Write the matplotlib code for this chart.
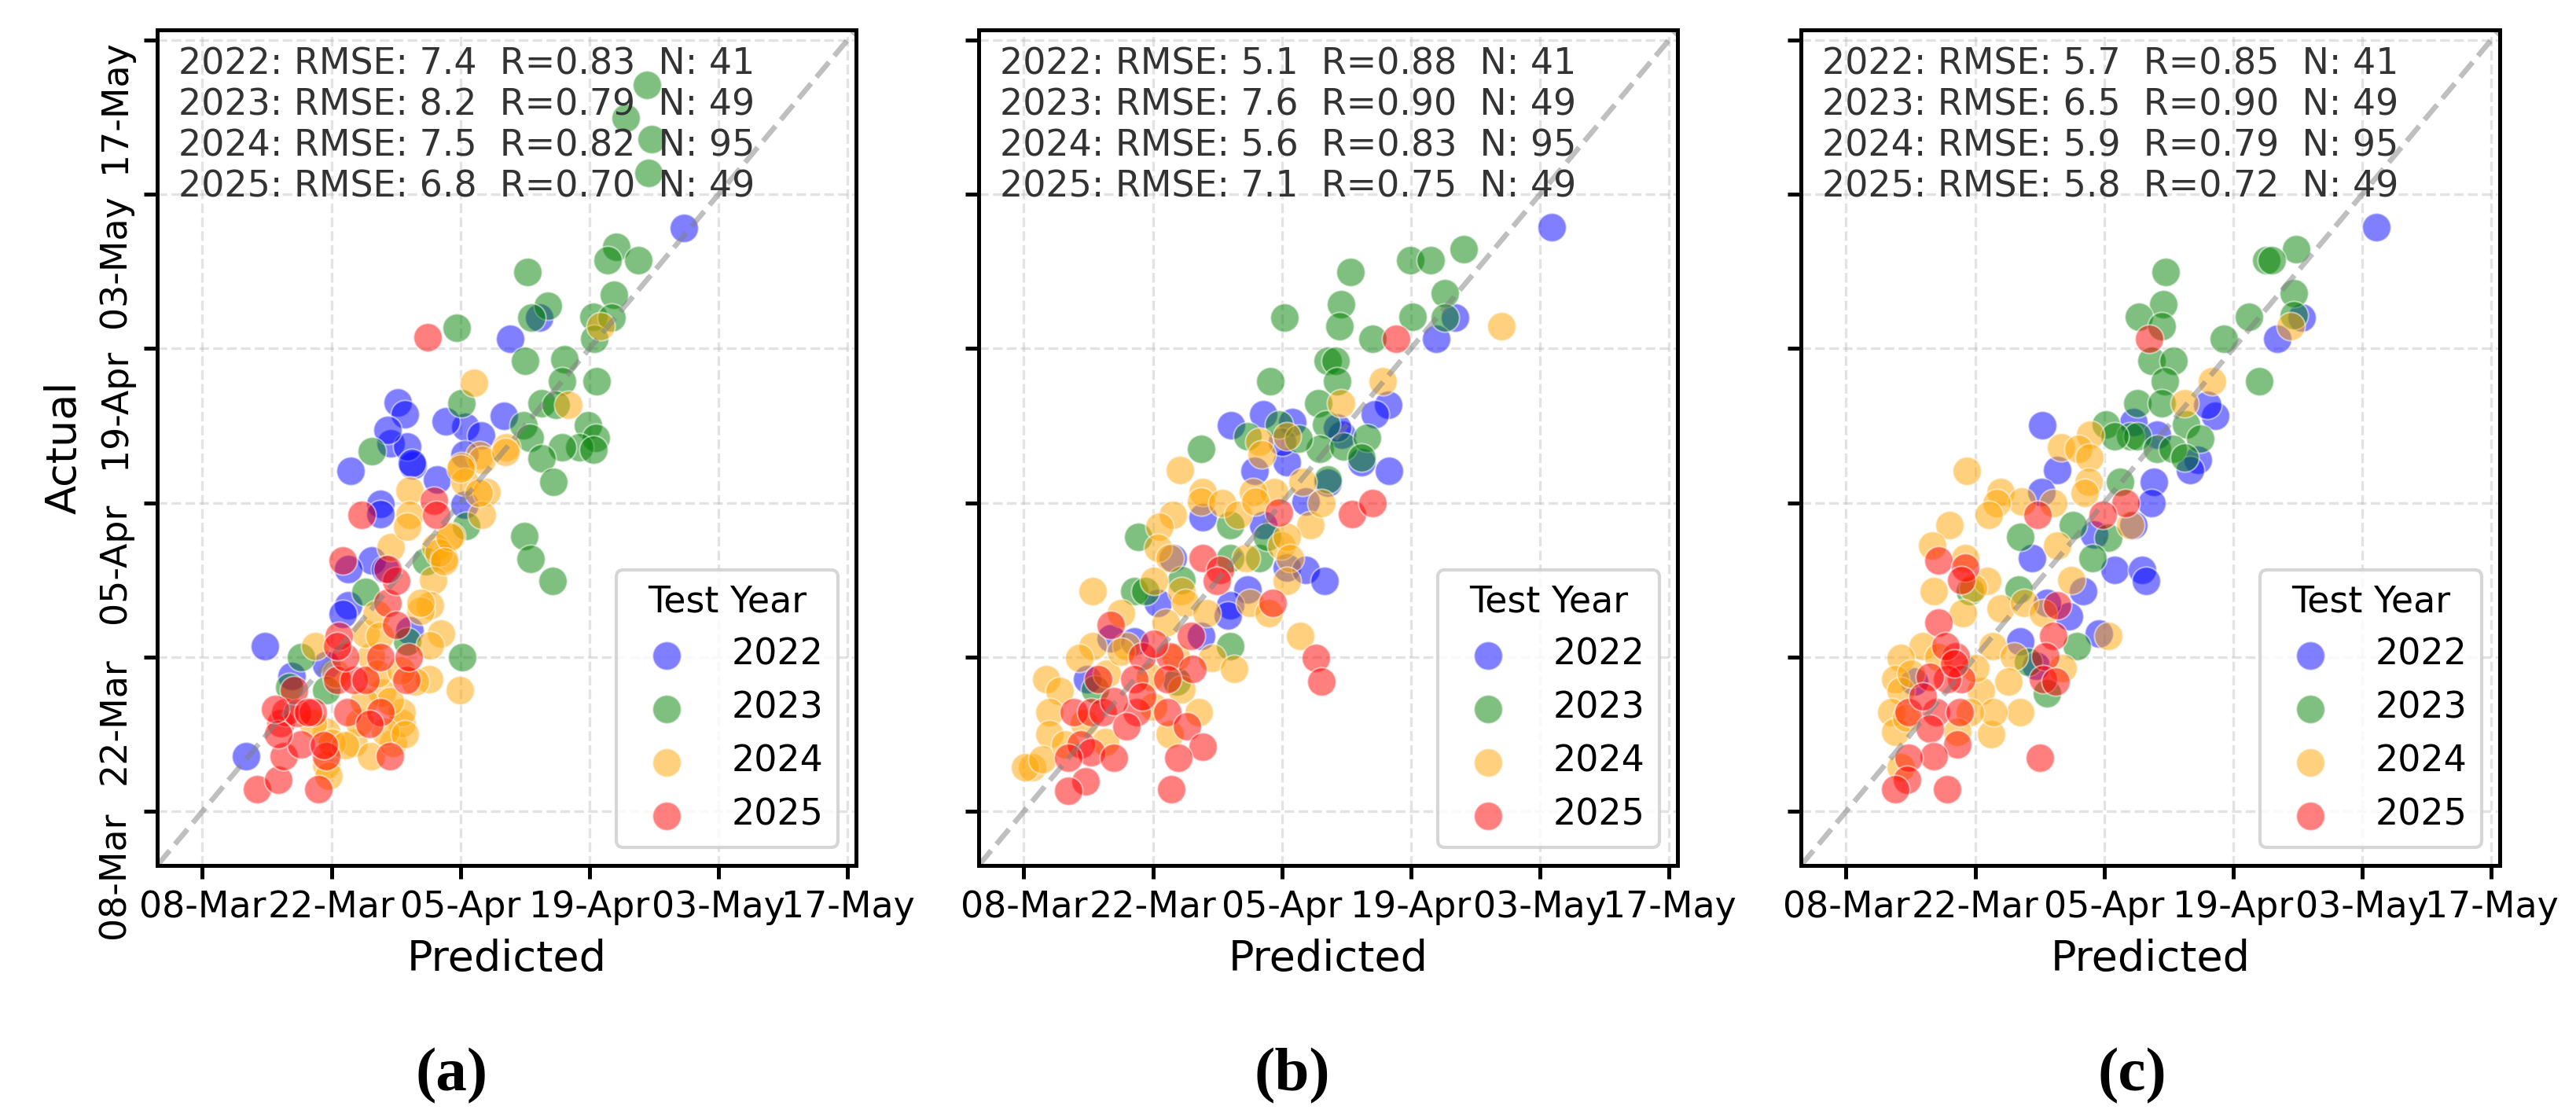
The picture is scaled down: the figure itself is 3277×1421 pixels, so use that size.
import numpy as np
import pandas as pd
import matplotlib
matplotlib.use("Agg")
import matplotlib.pyplot as plt
import matplotlib.dates as mdates

# all values are days after 08-Mar, pairs are (predicted, actual)
base_date = pd.Timestamp("2023-03-08")
years = ["2022", "2023", "2024", "2025"]
year_colors = ["blue", "green", "orange", "red"]
tick_days = [0, 14, 28, 42, 56, 70]

# ---- panel (a) ----
a_2022 = [(52.2, 52.9), (33.4, 42.9), (36.5, 44.8), (32.7, 35.9), (28.5, 34.9), (30.2, 34.1),
          (26.4, 35.4), (28.4, 32.4), (25.5, 30.1), (28.4, 27.8), (6.8, 15.0), (4.7, 5.0),
          (16.1, 30.9), (19.3, 27.9), (19.3, 27.0), (18.4, 22.8), (15.8, 22.0), (15.8, 18.7),
          (15.2, 17.9), (22.8, 31.4), (9.7, 12.3), (13.4, 13.3), (22.5, 16.4), (19.8, 22.0),
          (20.4, 33.4), (22.2, 33.1), (21.2, 37.1), (22.0, 36.0), (20.1, 34.6), (22.7, 31.6)]
a_2023 = [(48.2, 65.9), (45.9, 62.9), (48.7, 61.0), (48.4, 57.9), (44.9, 51.2), (44.0, 50.0),
          (47.3, 50.0), (35.3, 48.9), (44.6, 46.9), (37.5, 45.9), (35.7, 44.8), (42.4, 44.9),
          (44.4, 44.8), (42.5, 42.9), (27.6, 43.9), (35.0, 40.9), (39.3, 41.0), (39.0, 39.0),
          (42.8, 39.0), (28.1, 37.0), (36.8, 37.0), (38.3, 36.9), (34.8, 35.0), (35.5, 33.9),
          (41.8, 35.0), (42.7, 33.9), (40.9, 33.0), (39.0, 33.0), (42.4, 32.8), (36.8, 32.0),
          (38.1, 29.9), (34.9, 25.0), (35.6, 22.9), (38.0, 20.9), (28.2, 14.0), (28.6, 25.9),
          (18.4, 32.7), (10.7, 14.0), (9.4, 11.3), (13.4, 11.0), (17.7, 19.9), (22.2, 15.4),
          (24.3, 22.7)]
a_2024 = [(43.2, 44.0), (29.5, 38.9), (39.7, 36.9), (33.0, 33.0), (30.1, 32.3), (30.3, 31.9),
          (28.1, 31.3), (28.4, 29.9), (30.8, 29.0), (30.3, 26.9), (27.0, 25.0), (25.3, 24.0),
          (26.2, 23.0), (25.0, 21.0), (24.7, 18.7), (25.9, 16.1), (24.7, 15.1), (24.6, 12.0),
          (27.9, 11.0), (23.7, 18.2), (12.2, 15.0), (13.4, 4.2), (13.7, 3.2), (16.4, 6.2),
          (18.3, 5.0), (20.7, 6.2), (21.6, 8.0), (21.6, 9.0), (19.8, 7.2), (19.5, 10.8),
          (17.0, 8.1), (13.4, 7.2), (14.0, 6.2), (23.1, 11.8), (23.7, 18.9), (20.4, 24.0),
          (22.5, 29.1), (22.5, 26.9), (22.2, 25.8), (25.6, 23.5), (26.8, 24.9), (26.2, 22.7),
          (30.0, 28.9), (28.0, 31.1), (32.9, 32.6), (18.3, 14.1), (17.7, 16.1), (18.9, 17.9),
          (19.2, 15.9), (20.3, 10.0), (19.0, 12.5), (21.5, 12.8), (17.5, 10.0), (15.5, 6.0),
          (22.0, 7.0), (14.5, 12.5), (12.0, 8.0)]
a_2025 = [(5.9, 2.0), (8.2, 2.9), (12.6, 2.0), (8.8, 5.0), (10.7, 6.1), (13.4, 5.0),
          (13.2, 6.0), (20.3, 5.0), (8.5, 8.0), (9.0, 9.0), (10.3, 8.9), (12.0, 9.0),
          (15.7, 9.0), (19.3, 9.0), (18.1, 7.9), (14.6, 11.9), (16.4, 11.9), (17.7, 11.9),
          (22.1, 11.9), (15.5, 14.0), (19.3, 14.0), (22.4, 14.0), (14.8, 15.9), (20.1, 18.9),
          (21.0, 16.9), (21.0, 20.9), (20.1, 22.0), (15.2, 22.8), (17.3, 26.9), (25.1, 28.2),
          (25.4, 26.9), (8.2, 7.0), (14.6, 15.0), (24.4, 43.0), (9.9, 11.0), (11.5, 9.0),
          (7.9, 9.3)]
a_stats = ["2022: RMSE: 7.4  R=0.83  N: 41", "2023: RMSE: 8.2  R=0.79  N: 49",
           "2024: RMSE: 7.5  R=0.82  N: 95", "2025: RMSE: 6.8  R=0.70  N: 49"]

# ---- panel (b) ----
b_2022 = [(57.3, 53.0), (46.8, 44.8), (44.7, 42.9), (39.5, 36.9), (38.1, 36.0), (39.6, 30.9),
          (22.5, 35.0), (26.0, 36.0), (29.1, 35.3), (34.5, 34.2), (33.0, 29.8), (25.0, 30.9),
          (28.5, 31.7), (36.6, 31.7), (30.6, 28.1), (19.4, 26.7), (26.0, 26.0), (16.2, 23.0),
          (28.5, 22.1), (30.6, 21.9), (32.6, 20.9), (24.3, 20.1), (22.4, 18.7), (22.1, 17.8),
          (14.5, 18.9), (19.2, 15.9), (6.9, 12.0), (9.4, 15.7), (12.0, 15.4), (34.0, 34.8),
          (28.0, 33.5)]
b_2023 = [(47.7, 51.0), (41.9, 50.0), (44.1, 50.0), (35.4, 48.9), (28.3, 44.8), (45.7, 47.0),
          (45.7, 44.8), (42.2, 44.9), (34.4, 46.0), (34.2, 44.0), (37.8, 42.9), (33.0, 40.9),
          (33.8, 40.9), (34.0, 39.0), (26.7, 39.0), (31.9, 37.0), (32.8, 35.1), (32.1, 32.9),
          (34.7, 33.1), (37.2, 33.9), (36.6, 32.1), (27.7, 35.1), (24.3, 34.0), (29.8, 33.8),
          (33.0, 30.1), (19.2, 32.9), (12.4, 24.9), (22.4, 26.0), (22.4, 23.0), (25.5, 23.0),
          (26.4, 24.9), (12.0, 20.0), (13.2, 20.0), (17.1, 21.0), (22.4, 15.0), (16.6, 11.8),
          (7.7, 11.1)]
b_2024 = [(51.8, 44.0), (38.9, 39.0), (34.4, 37.0), (25.5, 33.5), (28.5, 34.0), (25.8, 32.4),
          (16.9, 31.0), (30.2, 29.9), (27.2, 29.0), (24.9, 29.0), (19.4, 29.0), (19.2, 28.1),
          (21.5, 28.0), (23.2, 26.9), (25.1, 28.1), (31.1, 26.0), (32.3, 28.0), (16.2, 26.9),
          (14.7, 25.8), (14.5, 23.9), (15.8, 23.0), (27.9, 24.1), (28.5, 24.9), (24.1, 23.0),
          (28.9, 23.0), (28.5, 20.9), (7.5, 20.0), (14.1, 20.9), (17.1, 20.0), (17.5, 18.9),
          (19.8, 18.0), (15.4, 17.1), (24.5, 18.9), (26.6, 18.0), (30.0, 15.9), (10.5, 18.0),
          (7.5, 15.0), (6.0, 13.9), (11.1, 15.0), (20.4, 13.9), (22.8, 12.9), (2.4, 12.0),
          (3.9, 10.9), (2.8, 9.0), (2.8, 7.0), (0.9, 4.0), (0.1, 4.0), (2.0, 4.7), (4.5, 6.1),
          (19.0, 9.0), (15.8, 7.0), (8.8, 6.3), (13.7, 12.2), (17.1, 11.1), (9.0, 12.5),
          (10.5, 14.5), (6.5, 8.0), (14.0, 9.5), (16.5, 14.0)]
b_2025 = [(40.4, 42.9), (35.6, 27.0), (37.8, 28.0), (27.7, 27.1), (19.4, 23.0), (21.3, 21.9),
          (20.9, 20.9), (27.0, 18.9), (9.4, 16.9), (18.1, 15.9), (12.8, 14.1), (15.8, 14.1),
          (14.1, 15.2), (18.3, 12.9), (8.1, 12.0), (12.0, 12.0), (15.6, 12.0), (5.4, 9.0),
          (7.3, 9.0), (8.6, 9.0), (12.2, 9.0), (15.6, 9.0), (12.8, 10.4), (9.8, 10.0),
          (17.7, 7.7), (11.1, 7.7), (6.2, 6.1), (7.3, 5.4), (9.8, 4.9), (4.8, 4.9),
          (19.4, 5.9), (16.8, 4.9), (6.7, 2.7), (4.8, 1.9), (16.0, 2.0), (31.7, 13.9),
          (32.3, 11.8)]
b_stats = ["2022: RMSE: 5.1  R=0.88  N: 41", "2023: RMSE: 7.6  R=0.90  N: 49",
           "2024: RMSE: 5.6  R=0.83  N: 95", "2025: RMSE: 7.1  R=0.75  N: 49"]

# ---- panel (c) ----
c_2022 = [(57.5, 53.0), (49.4, 44.8), (46.8, 42.9), (40.0, 35.9), (39.2, 36.9), (38.2, 31.9),
          (37.3, 31.0), (33.4, 29.9), (33.1, 28.0), (31.2, 26.0), (21.3, 35.0), (31.2, 35.3),
          (33.7, 34.2), (22.9, 31.0), (21.2, 29.0), (26.9, 25.1), (20.2, 23.0), (29.1, 21.9),
          (32.1, 21.9), (32.5, 20.9), (25.7, 20.0), (24.2, 17.7), (21.8, 18.9), (27.4, 16.1),
          (18.9, 15.4), (20.6, 13.2), (7.4, 11.8)]
c_2023 = [(34.7, 48.9), (48.8, 51.0), (45.6, 50.0), (46.2, 50.0), (34.4, 46.0), (31.8, 44.9),
          (34.2, 44.0), (48.6, 47.0), (48.6, 45.0), (43.7, 44.9), (41.0, 42.9), (33.1, 40.9),
          (35.5, 40.9), (34.6, 39.0), (44.8, 39.0), (31.6, 37.0), (34.2, 37.0), (36.9, 35.1),
          (38.4, 33.8), (28.2, 35.1), (30.8, 34.0), (31.6, 34.0), (29.1, 34.0), (33.7, 32.9),
          (35.4, 32.9), (36.7, 32.1), (29.7, 29.9), (24.6, 26.0), (18.9, 24.9), (28.4, 24.8),
          (26.7, 23.0), (18.7, 20.1), (25.0, 15.0), (21.8, 10.7), (19.7, 13.6), (13.4, 20.0)]
c_2024 = [(39.7, 39.0), (36.7, 37.0), (48.2, 44.0), (26.5, 34.2), (23.3, 33.0), (25.2, 32.9),
          (26.4, 32.1), (26.3, 29.9), (25.9, 28.9), (13.1, 30.9), (16.8, 29.0), (19.1, 28.1),
          (16.3, 28.0), (15.5, 26.9), (22.5, 28.0), (11.2, 26.0), (9.3, 24.1), (12.9, 23.0),
          (15.3, 20.9), (9.5, 20.0), (22.9, 24.1), (24.4, 21.0), (30.8, 26.0), (28.4, 15.9),
          (13.8, 20.3), (16.8, 18.4), (19.3, 18.9), (21.4, 18.0), (12.7, 18.0), (15.9, 15.0),
          (18.2, 14.1), (8.3, 15.0), (5.9, 13.9), (5.3, 12.0), (5.9, 10.9), (14.6, 10.9),
          (17.6, 11.8), (23.5, 13.0), (4.9, 9.0), (5.3, 7.2), (15.7, 7.0), (18.9, 9.0),
          (16.0, 9.0), (13.4, 9.0), (5.9, 4.0), (12.1, 7.2), (7.0, 12.5), (10.0, 14.0),
          (6.5, 8.5), (14.0, 13.0)]
c_2025 = [(32.9, 42.9), (30.3, 28.0), (27.8, 26.9), (20.8, 26.9), (22.9, 18.7), (22.5, 15.9),
          (21.6, 14.1), (21.4, 12.0), (22.7, 11.8), (10.0, 22.8), (12.9, 22.1), (12.5, 21.0),
          (10.0, 17.1), (11.9, 14.1), (12.5, 12.0), (11.0, 12.0), (9.1, 12.2), (6.8, 9.0),
          (9.8, 9.0), (12.3, 9.0), (8.3, 10.4), (9.1, 7.5), (12.1, 6.1), (9.5, 5.0),
          (6.8, 4.9), (6.6, 2.9), (5.3, 2.0), (11.0, 2.0), (21.0, 4.9), (10.8, 15.0),
          (11.7, 13.4)]
c_stats = ["2022: RMSE: 5.7  R=0.85  N: 41", "2023: RMSE: 6.5  R=0.90  N: 49",
           "2024: RMSE: 5.9  R=0.79  N: 95", "2025: RMSE: 5.8  R=0.72  N: 49"]

panel_data = [[a_2022, a_2023, a_2024, a_2025],
              [b_2022, b_2023, b_2024, b_2025],
              [c_2022, c_2023, c_2024, c_2025]]
panel_stats = [a_stats, b_stats, c_stats]
captions = ["(a)", "(b)", "(c)"]


def to_dates(days):
    return base_date + pd.to_timedelta(np.asarray(days, dtype=float), unit="D")


fig = plt.figure(figsize=(3278 / 300, 1421 / 300), dpi=300)

lefts = [0.0610, 0.3798, 0.6989]
caption_x = [0.1754, 0.5015, 0.8273]
lo, hi = to_dates([-4.9, 70.9])

for i, left in enumerate(lefts):
    ax = fig.add_axes([left, 0.2252, 0.2712, 0.7481])

    # one scatter per test year
    for pts, year, col in zip(panel_data[i], years, year_colors):
        pts = np.array(pts)
        ax.scatter(to_dates(pts[:, 0]), to_dates(pts[:, 1]), s=76, color=col,
                   alpha=0.5, edgecolor="white", linewidth=0.5, label=year)

    # 1:1 line
    ax.plot([lo, hi], [lo, hi], "--", color="gray", alpha=0.5, linewidth=1.6)

    ax.set_xlim(lo, hi)
    ax.set_ylim(lo, hi)
    ax.set_xticks(to_dates(tick_days))
    ax.set_yticks(to_dates(tick_days))
    ax.xaxis.set_major_formatter(mdates.DateFormatter("%d-%b"))
    ax.yaxis.set_major_formatter(mdates.DateFormatter("%d-%b"))
    ax.grid(True, linestyle="--", alpha=0.35)
    ax.set_axisbelow(True)

    ax.tick_params(labelsize=11, length=4, width=1.2)
    for sp in ax.spines.values():
        sp.set_linewidth(1.2)
    plt.setp(ax.get_yticklabels(), rotation=90, va="top")
    if i > 0:
        ax.tick_params(labelleft=False)
    else:
        ax.set_ylabel("Actual", fontsize=13)
    ax.set_xlabel("Predicted", fontsize=13)

    ax.text(0.03, 0.98, "\n".join(panel_stats[i]), transform=ax.transAxes,
            ha="left", va="top", fontsize=11, color="#333333")

    ax.legend(title="Test Year", loc="lower right", fontsize=11, title_fontsize=11)

    fig.text(caption_x[i], 0.037, captions[i], ha="center", va="center",
             fontsize=19, fontweight="bold", family="Liberation Serif")

fig.savefig("out.png", dpi=300)
